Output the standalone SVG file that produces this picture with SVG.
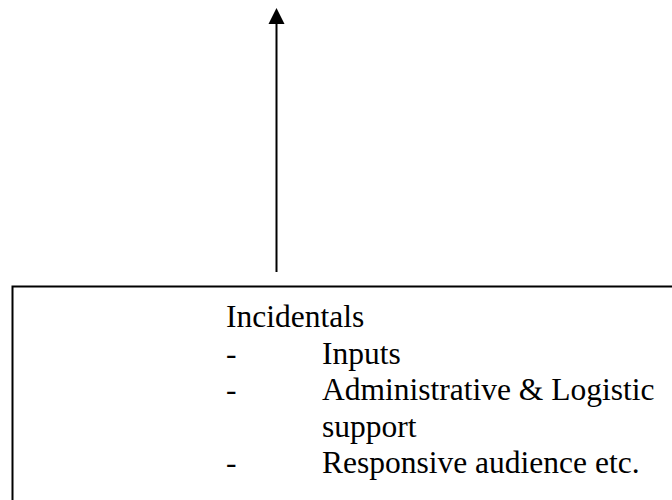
<svg xmlns="http://www.w3.org/2000/svg" width="672" height="500" viewBox="0 0 672 500">
<style>
.t{font-family:"Liberation Serif","Times New Roman",serif;font-size:31.5px;fill:#000}
</style>
<defs>
<marker id="ah" markerWidth="16" markerHeight="16" refX="8" refY="0" orient="auto" markerUnits="userSpaceOnUse" viewBox="0 0 16 16" overflow="visible">
<path d="M0,16 L8,0 L16,16 Z" fill="#000"/>
</marker>
</defs>
<rect width="672" height="500" fill="#fff"/>
<g id="connectors">
<line x1="276.5" y1="272" x2="276.5" y2="24" stroke="#000" stroke-width="2"/>
<path d="M268.5,24 L276.5,8 L284.5,24 Z" fill="#000"/>
</g>
<g id="incidentals">
<rect x="12.5" y="286.5" width="680" height="240" fill="none" stroke="#000" stroke-width="2"/>
<text class="t" x="226" y="327">Incidentals</text>
<text class="t" x="226" y="364">-</text>
<text class="t" x="322" y="364">Inputs</text>
<text class="t" x="226" y="400">-</text>
<text class="t" x="322" y="400">Administrative &amp; Logistic</text>
<text class="t" x="322" y="437">support</text>
<text class="t" x="226" y="473">-</text>
<text class="t" x="322" y="473">Responsive audience etc.</text>
</g>
</svg>
